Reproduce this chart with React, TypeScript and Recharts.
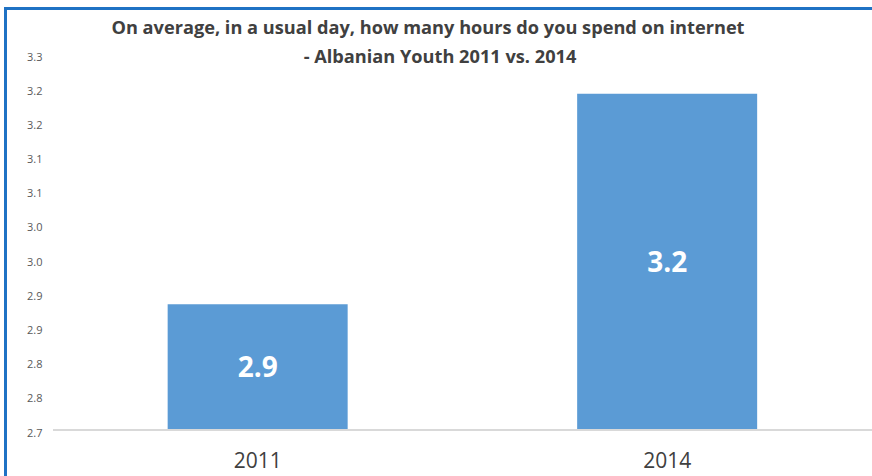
import { Bar, BarChart, LabelList, XAxis, YAxis } from "recharts";

const YEARS = ["2011", "2014"];
const HOURS = [2.884, 3.192];
const Y_TICKS = [2.7, 2.75, 2.8, 2.85, 2.9, 2.95, 3.0, 3.05, 3.1, 3.15, 3.2, 3.25];
const TITLE_LINES = [
  "On average, in a usual day, how many hours do you spend on internet",
  "- Albanian Youth 2011 vs. 2014",
];

const data = YEARS.map((year, i) => ({ year, hours: HOURS[i] }));

const FONT = "'Open Sans', sans-serif";
const BAR = "#5b9bd5";
const INK = "#404040";
const FRAME = "#1f72c4";

// excel style rounding (3.05 -> 3.1), toFixed gets float edges wrong
const oneDecimal = (v: number) => (Math.round(v * 10 + 1e-6) / 10).toFixed(1);

function YTick({ y, payload }: any) {
  return (
    <text x={27} y={y + 6.5} fontSize={11} fill="#595959" fontFamily={FONT}>
      {oneDecimal(Number(payload.value))}
    </text>
  );
}

function XTick({ x, y, payload }: any) {
  return (
    <text x={x} y={y + 30} fontSize={21} fill={INK} fontFamily={FONT} textAnchor="middle">
      {payload.value}
    </text>
  );
}

export default function App() {
  return (
    <div
      style={{
        position: "fixed",
        left: 0,
        top: 0,
        width: 872,
        height: 476,
        background: "#fff",
      }}
    >
      <style>
        {"html,body{overflow:hidden;margin:0;scrollbar-width:none}::-webkit-scrollbar{display:none;width:0;height:0}"}
      </style>
      <BarChart
        width={872}
        height={476}
        data={data}
        margin={{ top: 54, right: 0, bottom: 0, left: 0 }}
        barCategoryGap="28%"
        accessibilityLayer={false}
      >
        <XAxis
          dataKey="year"
          height={46}
          tickLine={false}
          axisLine={{ stroke: "#d9d9d9", strokeWidth: 2 }}
          tick={<XTick />}
        />
        <YAxis
          width={53}
          domain={[2.7, 3.25]}
          ticks={Y_TICKS}
          allowDataOverflow
          axisLine={false}
          tickLine={false}
          tick={<YTick />}
        />
        <Bar dataKey="hours" fill={BAR} isAnimationActive={false}>
          <LabelList
            dataKey="hours"
            position="center"
            fill="#fff"
            fontSize={28}
            fontWeight="bold"
            fontFamily={FONT}
            formatter={(v: any) => oneDecimal(Number(v))}
          />
        </Bar>
      </BarChart>
      <svg
        width={872}
        height={476}
        style={{ position: "absolute", left: 0, top: 0, pointerEvents: "none" }}
      >
        {/* frame: only the top and left edges are in view */}
        <rect x={4} y={7} width={868} height={3} fill={FRAME} />
        <rect x={4} y={7} width={3} height={469} fill={FRAME} />
        <text x={428} y={34} textAnchor="middle" fontSize={18.2} fontWeight="bold" fill={INK} fontFamily={FONT}>
          {TITLE_LINES[0]}
        </text>
        <text x={440} y={63} textAnchor="middle" fontSize={18.2} fontWeight="bold" fill={INK} fontFamily={FONT}>
          {TITLE_LINES[1]}
        </text>
      </svg>
    </div>
  );
}
